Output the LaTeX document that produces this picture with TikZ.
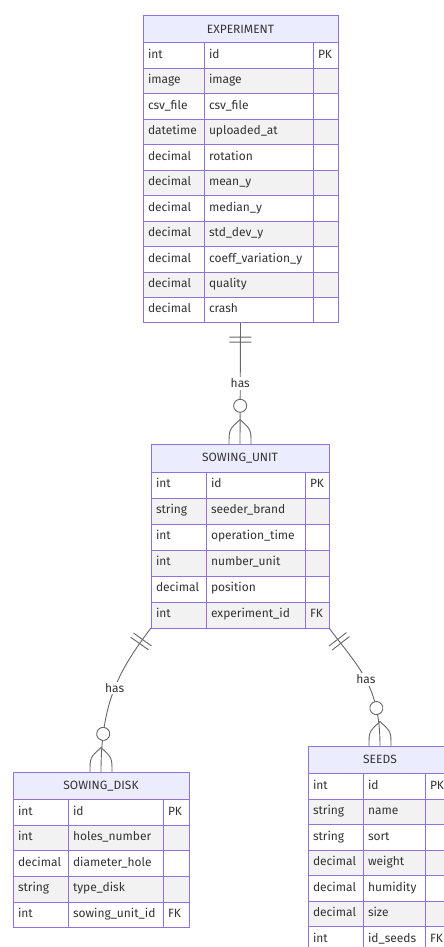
\documentclass[tikz,border=0pt]{standalone}
\usepackage{fontspec}
\setmainfont{Fira Sans}
\usetikzlibrary{fit,decorations.markings}
\definecolor{erline}{HTML}{9370DB}
\definecolor{erhead}{HTML}{ECECFF}
\definecolor{rowgray}{HTML}{F2F2F2}
\definecolor{ertext}{HTML}{333333}
\definecolor{relgray}{HTML}{666666}
\newcommand{\erfont}{\fontsize{12}{14}\selectfont}
% #1 name, #2 x, #3 y, #4-#6 column widths, #7 row height, #8 title, #9 rows
\newcommand{\ertable}[9]{%
  \pgfmathsetmacro{\wa}{#4-10}%
  \pgfmathsetmacro{\wb}{#5-10}%
  \pgfmathsetmacro{\wc}{#6-10}%
  \pgfmathsetmacro{\wall}{#4+#5+#6}%
  \pgfmathsetmacro{\tth}{#7+2}%
  \node[headcell, minimum width=\wall pt, minimum height=\tth pt] (#1-0) at (#2,#3) {#8};
  \foreach \ty/\nm/\ky [count=\i] in {#9}{
    \ifodd\i\relax \def\rf{white}\else \def\rf{rowgray}\fi
    \node[cell=\wa, fill=\rf, minimum height=#7pt] (#1-t\i) at (#2,{#3+\tth+(\i-1)*#7}) {\ty};
    \node[cell=\wb, fill=\rf, minimum height=#7pt] (#1-n\i) at (#1-t\i.north east) {\nm};
    \node[cell=\wc, fill=\rf, minimum height=#7pt] (#1-k\i) at (#1-n\i.north east) {\ky};
    \coordinate (#1-end) at (#1-k\i.south east);
  }
  \node[fit=(#1-0)(#1-end), inner sep=0pt] (#1) {};
}

\begin{document}
\begin{tikzpicture}[x=1pt, y=-1pt,
  cell/.style={draw=erline, line width=1pt, anchor=north west, outer sep=0pt,
    inner xsep=5pt, inner ysep=0pt, text width=#1pt, text height=8.5pt,
    text depth=3pt, align=left, font=\erfont, text=ertext},
  headcell/.style={draw=erline, fill=erhead, line width=1pt, anchor=north west,
    outer sep=0pt, inner sep=0pt, font=\erfont, text=ertext},
  relline/.style={draw=relgray, line width=0.9pt},
  onlyone/.style={postaction={decorate, decoration={markings,
    mark=at position 14pt with {\draw[relgray, line width=0.9pt] (0pt,-11pt) -- (0pt,11pt);},
    mark=at position 19pt with {\draw[relgray, line width=0.9pt] (0pt,-11pt) -- (0pt,11pt);}}}},
  zeromany/.style={postaction={decorate, decoration={markings,
    mark=at position -38pt with {\draw[relgray, fill=white, line width=0.9pt] (0pt,0pt) circle[radius=6.5pt];},
    mark=at position -0.2pt with {\draw[relgray, line width=0.9pt] (0.2pt,-11pt) .. controls (-14pt,-11pt) .. (-24pt,0pt)
      .. controls (-14pt,11pt) .. (0.2pt,11pt);}}}},
  haslabel/.style={fill=white, inner sep=1.5pt, font=\erfont, text=ertext}
]
\useasboundingbox (0,0) rectangle (444,947);
\clip (0,0) rectangle (444,947);

\ertable{exp}{143}{15.5}{61}{109}{25}{25.45}{EXPERIMENT}{int/id/PK, image/image/{},
  csv\_file/csv\_file/{}, datetime/uploaded\_at/{}, decimal/rotation/{}, decimal/mean\_y/{},
  decimal/median\_y/{}, decimal/std\_dev\_y/{}, decimal/coeff\_variation\_y/{},
  decimal/quality/{}, decimal/crash/{}}
\ertable{su}{151}{444}{55}{99}{24}{26}{SOWING\_UNIT}{int/id/PK, string/seeder\_brand/{},
  int/operation\_time/{}, int/number\_unit/{}, decimal/position/{}, int/experiment\_id/FK}
\ertable{disk}{13}{772}{55}{95}{26}{25.6}{SOWING\_DISK}{int/id/PK, int/holes\_number/{},
  decimal/diameter\_hole/{}, string/type\_disk/{}, int/sowing\_unit\_id/FK}
\ertable{seeds}{308}{746}{55}{62}{27}{25.5}{SEEDS}{int/id/PK, string/name/{}, string/sort/{},
  decimal/weight/{}, decimal/humidity/{}, decimal/size/{}, int/id\_seeds/FK}

% relationships
\draw[relline, onlyone, zeromany] (exp.south) -- node[haslabel] {has} (su.north);
\draw[relline, onlyone, zeromany] (su.south west) .. controls +(-30,40) and +(0,-72) ..
  node[haslabel] {has} (disk.north);
\draw[relline, onlyone, zeromany] (su.south east) .. controls +(30,40) and +(0,-60) ..
  node[haslabel] {has} (seeds.north);
\end{tikzpicture}
\end{document}
